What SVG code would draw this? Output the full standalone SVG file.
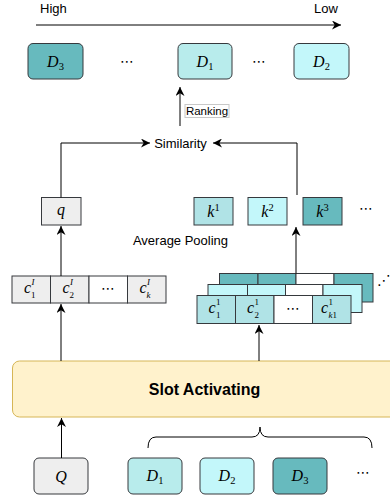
<svg xmlns="http://www.w3.org/2000/svg" width="390" height="498" viewBox="0 0 390 498">
<defs>
<marker id="arr" viewBox="0 0 10 10" refX="10" refY="5" markerWidth="9" markerHeight="9" markerUnits="userSpaceOnUse" orient="auto">
<path d="M0,0 L10,5 L0,10 L3,5 z" fill="#000"/>
</marker>
<style>
.lbl{font-family:"Liberation Sans",Arial,sans-serif;font-size:13px;fill:#000}
.math{font-family:"Liberation Serif","DejaVu Serif",serif;font-size:16px;fill:#000}
.it{font-style:italic}
.sm{font-size:10.5px}
.ss{font-size:9px}
.dots{font-family:"DejaVu Sans",sans-serif;font-size:14px;fill:#000}
.box{stroke:#36393d;stroke-width:1}
.dark{fill:#67babe}
.mid{fill:#b8ecec}
.light{fill:#c3f7fa}
.kone{fill:#b0e3e6}
.grey{fill:#eeeeee}
.white{fill:#ffffff}
.conn{fill:none;stroke:#000;stroke-width:1}
</style>
</defs>
<rect width="390" height="498" fill="#fff"/>

<g id="rank-axis">
<text class="lbl" x="40" y="13">High</text>
<text class="lbl" x="314" y="13">Low</text>
</g>

<g id="top-D3"><rect class="box dark" x="28" y="43.5" width="55" height="35.5" rx="5"/><text class="math" x="55.5" y="66.5" text-anchor="middle"><tspan class="it">D</tspan><tspan class="sm" dy="3">3</tspan></text></g>
<g id="top-dots1"><text class="dots" x="127" y="66" text-anchor="middle">⋯</text></g>
<g id="top-D1"><rect class="box mid" x="178" y="43.5" width="54" height="35.5" rx="5"/><text class="math" x="205" y="66.5" text-anchor="middle"><tspan class="it">D</tspan><tspan class="sm" dy="3">1</tspan></text></g>
<g id="top-dots2"><text class="dots" x="259" y="66" text-anchor="middle">⋯</text></g>
<g id="top-D2"><rect class="box light" x="294" y="43.5" width="55" height="35.5" rx="5"/><text class="math" x="321.5" y="66.5" text-anchor="middle"><tspan class="it">D</tspan><tspan class="sm" dy="3">2</tspan></text></g>

<g id="similarity"><text class="lbl" x="180.5" y="147.5" text-anchor="middle">Similarity</text></g>

<g id="q"><rect class="box grey" x="41.5" y="197.5" width="39.5" height="27.5"/><text class="math" x="61" y="215" text-anchor="middle"><tspan class="it">q</tspan></text></g>
<g id="k1"><rect class="box kone" x="194" y="197.5" width="39" height="27.5"/><text class="math" x="213.5" y="216.5" text-anchor="middle"><tspan class="it">k</tspan><tspan class="sm" dy="-6">1</tspan></text></g>
<g id="k2"><rect class="box light" x="248" y="197.5" width="39" height="27.5"/><text class="math" x="267.5" y="216.5" text-anchor="middle"><tspan class="it">k</tspan><tspan class="sm" dy="-6">2</tspan></text></g>
<g id="k3"><rect class="box dark" x="303" y="197.5" width="39" height="27.5"/><text class="math" x="322.5" y="216.5" text-anchor="middle"><tspan class="it">k</tspan><tspan class="sm" dy="-6">3</tspan></text></g>
<g id="k-dots"><text class="dots" x="366" y="213" text-anchor="middle">⋯</text></g>

<g id="avg-pooling"><text class="lbl" x="180.5" y="245" text-anchor="middle">Average Pooling</text></g>

<g id="cI-row">
<rect class="box grey" x="12" y="276" width="38.5" height="27"/>
<rect class="box grey" x="50.5" y="276" width="38.5" height="27"/>
<rect class="box white" x="89" y="276" width="38.5" height="27"/>
<rect class="box grey" x="127.5" y="276" width="38.5" height="27"/>
<text class="math it" x="24" y="293">c</text><text class="ss it" x="31.5" y="285" font-family="Liberation Serif,serif">I</text><text class="ss" x="31" y="298" font-family="Liberation Serif,serif">1</text>
<text class="math it" x="62.5" y="293">c</text><text class="ss it" x="70" y="285" font-family="Liberation Serif,serif">I</text><text class="ss" x="69.5" y="298" font-family="Liberation Serif,serif">2</text>
<text class="dots" x="108" y="293" text-anchor="middle">⋯</text>
<text class="math it" x="139.5" y="293">c</text><text class="ss it" x="147" y="285" font-family="Liberation Serif,serif">I</text><text class="ss it" x="146.5" y="298" font-family="Liberation Serif,serif">k</text>
</g>

<g id="stack-back">
<rect class="box dark" x="219.5" y="273.5" width="38.5" height="28.5"/>
<rect class="box dark" x="258" y="273.5" width="38" height="28.5"/>
<rect class="box white" x="296" y="273.5" width="38" height="28.5"/>
<rect class="box dark" x="334" y="273.5" width="39" height="28.5"/>
</g>
<g id="stack-middle">
<rect class="box light" x="208" y="284.5" width="39.5" height="28"/>
<rect class="box light" x="247.5" y="284.5" width="38" height="28"/>
<rect class="box white" x="285.5" y="284.5" width="37.5" height="28"/>
<rect class="box light" x="323" y="284.5" width="39" height="28"/>
</g>
<g id="stack-front">
<rect class="box kone" x="197" y="295.5" width="38.5" height="28"/>
<rect class="box kone" x="235.5" y="295.5" width="38.5" height="28"/>
<rect class="box white" x="274" y="295.5" width="38.5" height="28"/>
<rect class="box kone" x="312.5" y="295.5" width="38.5" height="28"/>
<text class="math it" x="208.5" y="312.5">c</text><text class="ss" x="216" y="304.5" font-family="Liberation Serif,serif">1</text><text class="ss" x="216" y="317.5" font-family="Liberation Serif,serif">1</text>
<text class="math it" x="247" y="312.5">c</text><text class="ss" x="254.5" y="304.5" font-family="Liberation Serif,serif">1</text><text class="ss" x="254.5" y="317.5" font-family="Liberation Serif,serif">2</text>
<text class="dots" x="293" y="313" text-anchor="middle">⋯</text>
<text class="math it" x="321" y="312.5">c</text><text class="ss" x="328.5" y="304.5" font-family="Liberation Serif,serif">1</text><text class="ss" x="328.5" y="317.5" font-family="Liberation Serif,serif"><tspan font-style="italic">k</tspan>1</text>
</g>
<g id="stack-dots"><text class="dots" x="384" y="285" text-anchor="middle" font-size="10">⋰</text></g>

<g id="slot-activating">
<rect x="12.5" y="361" width="390" height="56" rx="7" fill="#fff2cc" stroke="#d6b656" stroke-width="1"/>
<text x="204.5" y="394.5" text-anchor="middle" font-family="Liberation Sans,Arial,sans-serif" font-size="16" font-weight="bold" fill="#000">Slot Activating</text>
</g>

<g id="Q"><rect class="box grey" x="34" y="458" width="54" height="36" rx="5"/><text class="math" x="61" y="481.5" text-anchor="middle"><tspan class="it">Q</tspan></text></g>
<g id="bottom-D1"><rect class="box mid" x="128" y="458" width="54" height="36" rx="5"/><text class="math" x="155" y="481" text-anchor="middle"><tspan class="it">D</tspan><tspan class="sm" dy="3">1</tspan></text></g>
<g id="bottom-D2"><rect class="box light" x="200" y="458" width="54" height="36" rx="5"/><text class="math" x="227" y="481" text-anchor="middle"><tspan class="it">D</tspan><tspan class="sm" dy="3">2</tspan></text></g>
<g id="bottom-D3"><rect class="box dark" x="273" y="458" width="54" height="36" rx="5"/><text class="math" x="300" y="481" text-anchor="middle"><tspan class="it">D</tspan><tspan class="sm" dy="3">3</tspan></text></g>
<g id="bottom-dots"><text class="dots" x="363" y="477" text-anchor="middle">⋯</text></g>

<g id="connectors">
<path class="conn" d="M36,25 H341" marker-end="url(#arr)"/>
<path class="conn" d="M180,126 V87" marker-end="url(#arr)"/>
<path class="conn" d="M61,197.5 V143 H150" marker-end="url(#arr)"/>
<path class="conn" d="M297,195 V143 H213" marker-end="url(#arr)"/>
<path class="conn" d="M61,276 V226" marker-end="url(#arr)"/>
<path class="conn" d="M296,273.5 V227" marker-end="url(#arr)"/>
<path class="conn" d="M61,361 V304" marker-end="url(#arr)"/>
<path class="conn" d="M259,361 V325" marker-end="url(#arr)"/>
<path class="conn" d="M61.5,458 V418" marker-end="url(#arr)"/>
<path class="conn" d="M148,448 Q148,437 156,437 H252 Q260,437 260,427 Q260,437 268,437 H364 Q372,437 372,448"/>
<g id="ranking-label">
<rect x="185" y="104.5" width="44" height="13" fill="#fff" stroke="#c8c8c8" stroke-width="1"/>
<text x="207" y="115" text-anchor="middle" font-family="Liberation Sans,Arial,sans-serif" font-size="11.5" fill="#000">Ranking</text>
</g>
</g>
</svg>
